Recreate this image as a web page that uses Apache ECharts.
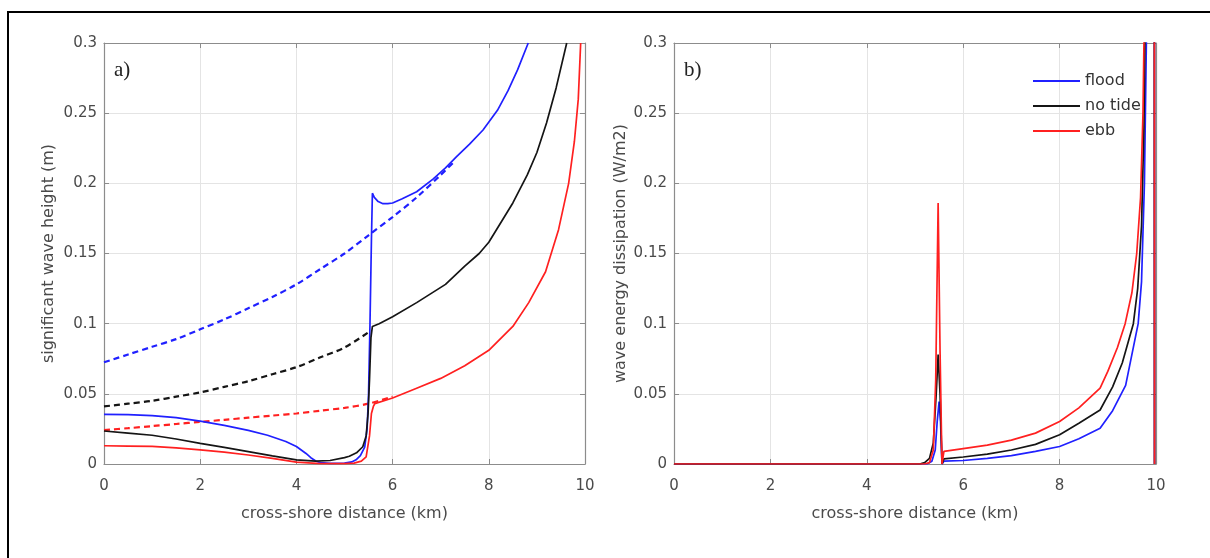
<!DOCTYPE html>
<html>
<head>
<meta charset="utf-8">
<script src="https://cdn.jsdelivr.net/npm/echarts@6/dist/echarts.min.js"></script>
<style>
  html, body { margin: 0; padding: 0; background: #fff; }
  #chart { width: 1210px; height: 558px; }
</style>
</head>
<body>
<div id="chart"></div>
<script>
// ---- a) significant wave height (m) vs cross-shore distance (km) ----
const xFloodA = [0, 0.5, 1.0, 1.5, 2.0, 2.5, 3.0, 3.4, 3.78, 4.0, 4.2, 4.3, 4.41, 4.5, 4.7, 5.0, 5.15, 5.24, 5.33, 5.42, 5.47, 5.5, 5.53, 5.56, 5.58, 5.62, 5.7, 5.8, 5.9, 6.0, 6.2, 6.5, 6.84, 7.1, 7.33, 7.6, 7.88, 8.18, 8.4, 8.6, 8.82];
const hsFloodA = [0.0354, 0.0352, 0.0345, 0.0330, 0.0305, 0.0275, 0.0240, 0.0205, 0.0160, 0.0125, 0.0075, 0.0045, 0.0020, 0.0010, 0.0005, 0.0006, 0.0015, 0.0030, 0.0060, 0.0120, 0.0250, 0.0500, 0.1000, 0.1600, 0.1930, 0.1900, 0.1870, 0.1855, 0.1855, 0.1860, 0.1890, 0.1940, 0.2030, 0.2110, 0.2190, 0.2280, 0.2380, 0.2520, 0.2660, 0.2810, 0.3000];

const xFloodRefA = [0, 0.5, 1.0, 1.5, 2.0, 2.5, 3.0, 3.5, 4.0, 4.5, 5.0, 5.5, 6.0, 6.5, 7.0, 7.3];
const hsFloodRefA = [0.0725, 0.078, 0.0835, 0.089, 0.096, 0.103, 0.111, 0.119, 0.128, 0.139, 0.150, 0.163, 0.176, 0.190, 0.206, 0.216];

const xNoTideA = [0, 0.5, 1.0, 1.5, 2.0, 2.5, 3.0, 3.5, 4.0, 4.4, 4.7, 5.0, 5.1, 5.25, 5.38, 5.45, 5.49, 5.52, 5.55, 5.58, 5.72, 6.0, 6.5, 7.1, 7.5, 7.8, 8.0, 8.5, 8.8, 9.0, 9.2, 9.4, 9.62];
const hsNoTideA = [0.0235, 0.0220, 0.0205, 0.0178, 0.0147, 0.0118, 0.0088, 0.0058, 0.0030, 0.0020, 0.0025, 0.0045, 0.0055, 0.0080, 0.0123, 0.0200, 0.0360, 0.0600, 0.0900, 0.0980, 0.1000, 0.1050, 0.1150, 0.1280, 0.1410, 0.1500, 0.1580, 0.1860, 0.2060, 0.2220, 0.2430, 0.2680, 0.3000];

const xNoTideRefA = [0, 0.5, 1.0, 1.5, 2.0, 2.5, 3.0, 3.5, 4.0, 4.5, 5.0, 5.55];
const hsNoTideRefA = [0.041, 0.043, 0.045, 0.048, 0.051, 0.055, 0.059, 0.064, 0.069, 0.076, 0.083, 0.095];

const xEbbA = [0, 0.5, 1.0, 1.5, 2.0, 2.5, 3.0, 3.5, 4.0, 4.5, 5.0, 5.2, 5.35, 5.45, 5.52, 5.56, 5.6, 5.63, 6.0, 6.5, 7.0, 7.5, 8.0, 8.5, 8.83, 9.18, 9.45, 9.66, 9.78, 9.86, 9.91];
const hsEbbA = [0.0130, 0.0128, 0.0125, 0.0115, 0.0100, 0.0085, 0.0064, 0.0040, 0.0014, 0.0003, 0.0003, 0.0006, 0.0020, 0.0050, 0.0200, 0.0360, 0.0410, 0.0430, 0.0470, 0.0540, 0.0610, 0.0700, 0.0810, 0.0980, 0.1150, 0.1370, 0.1670, 0.2000, 0.2300, 0.2600, 0.3000];

const xEbbRefA = [0, 0.5, 1.0, 1.5, 2.0, 2.5, 3.0, 3.5, 4.0, 4.5, 5.0, 5.5, 6.0];
const hsEbbRefA = [0.0242, 0.0255, 0.027, 0.0285, 0.030, 0.0315, 0.033, 0.0345, 0.036, 0.038, 0.040, 0.043, 0.048];

// ---- b) wave energy dissipation (W/m2) vs cross-shore distance (km) ----
const xFloodB = [0, 5.0, 5.25, 5.35, 5.42, 5.46, 5.5, 5.53, 5.56, 5.6, 6.0, 6.5, 7.0, 7.5, 8.0, 8.4, 8.84, 9.1, 9.37, 9.63, 9.7, 9.76, 9.8, 9.82, 9.96, 9.97];
const dissFloodB = [0, 0, 0, 0.002, 0.010, 0.030, 0.0445, 0.030, 0, 0.002, 0.0025, 0.004, 0.006, 0.009, 0.0125, 0.018, 0.0255, 0.038, 0.056, 0.100, 0.130, 0.200, 0.300, 1.0, 1.0, 0];

const xNoTideB = [0, 5.0, 5.1, 5.2, 5.3, 5.38, 5.44, 5.48, 5.52, 5.56, 5.6, 6.0, 6.5, 7.0, 7.5, 8.0, 8.4, 8.84, 9.1, 9.3, 9.53, 9.62, 9.7, 9.75, 9.77, 9.79, 9.96, 9.97];
const dissNoTideB = [0, 0, 0, 0.001, 0.004, 0.015, 0.050, 0.078, 0.050, 0, 0.0036, 0.005, 0.007, 0.010, 0.014, 0.0208, 0.029, 0.0385, 0.055, 0.072, 0.100, 0.125, 0.170, 0.240, 0.300, 1.0, 1.0, 0];

const xEbbB = [0, 5.2, 5.3, 5.38, 5.43, 5.48, 5.52, 5.56, 5.6, 6.0, 6.5, 7.0, 7.5, 8.0, 8.4, 8.84, 9.0, 9.2, 9.36, 9.5, 9.6, 9.68, 9.73, 9.75, 9.77, 9.96, 9.97];
const dissEbbB = [0, 0, 0.001, 0.010, 0.060, 0.186, 0.080, 0, 0.009, 0.011, 0.0135, 0.017, 0.022, 0.0303, 0.040, 0.054, 0.066, 0.083, 0.100, 0.122, 0.150, 0.190, 0.250, 0.300, 1.0, 1.0, 0];

// ---- axis ticks ----
const distanceTicks = [0, 2, 4, 6, 8, 10];
const valueTicks = [0, 0.05, 0.1, 0.15, 0.2, 0.25, 0.3];

const legendNames = ['flood', 'no tide', 'ebb'];
const colors = { flood: '#2020ff', 'no tide': '#151515', ebb: '#ff2020' };

const pairs = (xs, ys) => xs.map((x, i) => [x, ys[i]]);

const FONT = 'DejaVu Sans';
const TEXT = '#4a4a4a';
const BOX = '#8c8c8c';
const GRIDLINE = '#e4e4e4';

function mainX(gridIndex) {
  return {
    type: 'value', gridIndex, min: distanceTicks[0], max: distanceTicks[distanceTicks.length - 1],
    interval: distanceTicks[1] - distanceTicks[0],
    name: 'cross-shore distance (km)', nameLocation: 'middle', nameGap: 42,
    nameTextStyle: { fontFamily: FONT, fontSize: 16, color: TEXT },
    axisLine: { show: true, onZero: false, lineStyle: { color: BOX, width: 1.2 } },
    axisTick: { show: true, inside: true, length: 5, lineStyle: { color: BOX } },
    axisLabel: { margin: 15, fontFamily: FONT, fontSize: 15, color: TEXT },
    splitLine: { show: true, lineStyle: { color: GRIDLINE, width: 1 } }
  };
}
function sideX(gridIndex) {
  return {
    type: 'value', gridIndex, position: 'top', min: 0, max: 10, interval: 2,
    axisLine: { show: true, onZero: false, lineStyle: { color: BOX, width: 1.2 } },
    axisTick: { show: true, inside: true, length: 5, lineStyle: { color: BOX } },
    axisLabel: { show: false }, splitLine: { show: false }
  };
}
function mainY(gridIndex, name, gap) {
  return {
    type: 'value', gridIndex, min: valueTicks[0], max: valueTicks[valueTicks.length - 1],
    interval: valueTicks[1] - valueTicks[0],
    name, nameLocation: 'middle', nameGap: gap,
    nameTextStyle: { fontFamily: FONT, fontSize: 16, color: TEXT },
    axisLine: { show: true, onZero: false, lineStyle: { color: BOX, width: 1.2 } },
    axisTick: { show: true, inside: true, length: 5, lineStyle: { color: BOX } },
    axisLabel: { margin: 7, fontFamily: FONT, fontSize: 15, color: TEXT,
      formatter: v => String(+v.toFixed(2)) },
    splitLine: { show: true, lineStyle: { color: GRIDLINE, width: 1 } }
  };
}
function sideY(gridIndex) {
  return {
    type: 'value', gridIndex, position: 'right', min: 0, max: 0.3, interval: 0.05,
    axisLine: { show: true, onZero: false, lineStyle: { color: BOX, width: 1.2 } },
    axisTick: { show: true, inside: true, length: 5, lineStyle: { color: BOX } },
    axisLabel: { show: false }, splitLine: { show: false }
  };
}

// Dashed reference curves are gently smoothed; solid curves keep their sharp jumps.
function line(name, xs, ys, color, axis, dashed) {
  return {
    type: 'line', name, data: pairs(xs, ys),
    xAxisIndex: axis, yAxisIndex: axis,
    showSymbol: false, symbol: 'none', clip: true,
    smooth: dashed ? 0.3 : false,
    color, itemStyle: { color },
    lineStyle: { color, width: dashed ? 2.2 : 1.7, type: dashed ? [6, 4] : 'solid' },
    z: dashed ? 2 : 3
  };
}

const chart = echarts.init(document.getElementById('chart'), null, { renderer: 'canvas' });
chart.setOption({
  animation: false,
  backgroundColor: '#ffffff',
  grid: [
    { left: 104, top: 43, width: 481, height: 421 },
    { left: 674, top: 43, width: 482, height: 421 }
  ],
  xAxis: [mainX(0), sideX(0), mainX(1), sideX(1)],
  yAxis: [
    mainY(0, 'significant wave height (m)', 47), sideY(0),
    mainY(1, 'wave energy dissipation (W/m2)', 45), sideY(1)
  ],
  legend: {
    orient: 'vertical', left: 1028, top: 67,
    itemWidth: 47, itemHeight: 2, itemGap: 7, icon: 'rect',
    textStyle: { fontFamily: FONT, fontSize: 16, color: '#333', lineHeight: 18 },
    data: legendNames.map(n => ({ name: n, itemStyle: { color: colors[n] } })),
    selectedMode: false
  },
  graphic: [
    { type: 'rect', shape: { x: 8, y: 12, width: 1400, height: 800 },
      style: { fill: 'none', stroke: '#000', lineWidth: 2 }, silent: true, z: 100 },
    { type: 'text', left: 114, top: 60,
      style: { text: 'a)', font: '21px "Liberation Serif"', fill: '#222' }, z: 100 },
    { type: 'text', left: 684, top: 60,
      style: { text: 'b)', font: '21px "Liberation Serif"', fill: '#222' }, z: 100 }
  ],
  series: [
    line('flood ref', xFloodRefA, hsFloodRefA, colors.flood, 0, true),
    line('no tide ref', xNoTideRefA, hsNoTideRefA, colors['no tide'], 0, true),
    line('ebb ref', xEbbRefA, hsEbbRefA, colors.ebb, 0, true),
    line('flood', xFloodA, hsFloodA, colors.flood, 0, false),
    line('no tide', xNoTideA, hsNoTideA, colors['no tide'], 0, false),
    line('ebb', xEbbA, hsEbbA, colors.ebb, 0, false),
    line('flood', xFloodB, dissFloodB, colors.flood, 2, false),
    line('no tide', xNoTideB, dissNoTideB, colors['no tide'], 2, false),
    line('ebb', xEbbB, dissEbbB, colors.ebb, 2, false)
  ]
});
</script>
</body>
</html>
